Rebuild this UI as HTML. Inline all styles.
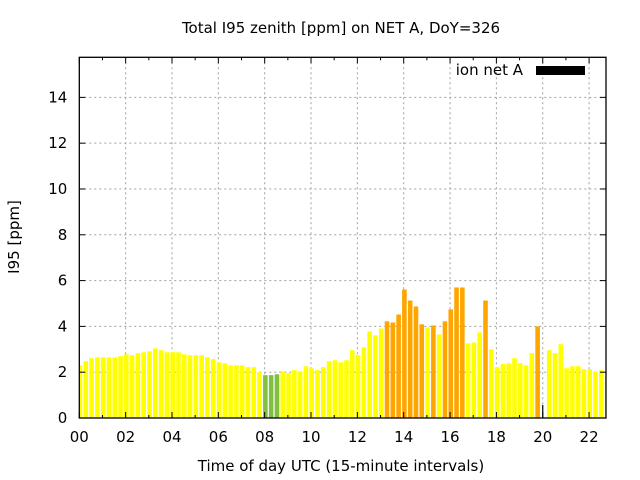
<!DOCTYPE html>
<html><head><meta charset="utf-8"><style>
html,body{margin:0;padding:0;background:#fff}
svg{display:block;font-family:"DejaVu Sans","Liberation Sans",sans-serif}
</style></head><body>
<svg id="chart" width="640" height="480" viewBox="0 0 640 480" xmlns="http://www.w3.org/2000/svg">
<rect x="0" y="0" width="640" height="480" fill="#fff"/>
<text x="341" y="33" font-size="15" text-anchor="middle" fill="#000">Total I95 zenith [ppm] on NET A, DoY=326</text>
<text x="341" y="471" font-size="15" text-anchor="middle" fill="#000">Time of day UTC (15-minute intervals)</text>
<text x="19" y="237" font-size="15" text-anchor="middle" fill="#000" transform="rotate(-90 19 237)">I95 [ppm]</text>
<g id="grid"></g>
<g id="bars"></g>
<g id="axes"></g>
<g>
<text x="523" y="75" font-size="15" text-anchor="end" fill="#000">ion net A</text>
<rect x="536" y="66" width="49" height="9" fill="#000"/>
</g>
</svg>
<script>
const values = [2.30,2.48,2.61,2.65,2.65,2.65,2.65,2.70,2.78,2.74,2.83,2.87,2.91,3.04,2.96,2.87,
2.87,2.87,2.78,2.74,2.74,2.74,2.65,2.57,2.43,2.39,2.30,2.30,2.30,2.22,2.22,2.00,
1.87,1.87,1.91,2.04,1.96,2.09,2.04,2.26,2.17,2.09,2.22,2.48,2.52,2.43,2.52,2.96,
2.74,3.09,3.78,3.61,3.91,4.22,4.17,4.52,5.61,5.13,4.87,4.09,3.96,4.04,3.65,4.22,
4.74,5.70,5.70,3.26,3.30,3.74,5.13,3.00,2.22,2.35,2.39,2.61,2.39,2.30,2.83,4.00,
null,2.96,2.83,3.22,2.17,2.26,2.26,2.13,2.13,2.04,2.09,2.04];
const levels = ["y","y","y","y","y","y","y","y","y","y","y","y","y","y","y","y",
"y","y","y","y","y","y","y","y","y","y","y","y","y","y","y","y",
"g","g","g","y","y","y","y","y","y","y","y","y","y","y","y","y",
"y","y","y","y","y","o","o","o","o","o","o","o","y","o","y","o",
"o","o","o","y","y","y","o","y","y","y","y","y","y","y","y","o",
"y","y","y","y","y","y","y","y","y","y","y","y"];
const xTicks = ["00","02","04","06","08","10","12","14","16","18","20","22"];
const yTicks = [0,2,4,6,8,10,12,14];
const colors = {y:"#ffff00", o:"#ffa500", g:"#80c040"};
const L=79.3,R=606,T=57.3,B=418,XMAX=22.73,YMAX=15.75;
const NS="http://www.w3.org/2000/svg";
function sx(t){return L+(R-L)*t/XMAX;}
function sy(v){return B-(B-T)*v/YMAX;}
function mk(tag,attrs,parent){const e=document.createElementNS(NS,tag);for(const k in attrs)e.setAttribute(k,attrs[k]);parent.appendChild(e);return e;}
const grid=document.getElementById('grid'),bars=document.getElementById('bars'),axes=document.getElementById('axes');
xTicks.forEach((lab,i)=>{const x=sx(i*2);
 if(i>0){const g=mk('line',{x1:x,x2:x,y1:T,y2:B,stroke:'#a0a0a0','stroke-width':1,'stroke-dasharray':'2,3'},grid);
 
 }
});
yTicks.forEach(v=>{if(v===0)return;const y=sy(v);
 const g=mk('line',{x1:L,x2:R,y1:y,y2:y,stroke:'#a0a0a0','stroke-width':1,'stroke-dasharray':'2,3'},grid);
 
 
});
const clip=mk('clipPath',{id:'pc'},document.getElementById('chart'));
mk('rect',{x:L,y:T,width:R-L,height:B-T},clip);
bars.setAttribute('clip-path','url(#pc)');
values.forEach((v,i)=>{if(v===null)return;const t=i*0.25+0.03;const x=sx(t);const w=4.6;
 const r=mk('rect',{x:x-w/2,y:sy(v),width:w,height:B-sy(v),fill:colors[levels[i]]},bars);
 
 
});
const m=mk('line',{x1:sx(20),x2:sx(20),y1:B-13,y2:B,stroke:'#000','stroke-width':1.2},axes);


const f=mk('rect',{x:L,y:T,width:R-L,height:B-T,fill:'none',stroke:'#000','stroke-width':1.3},axes);


for(let h=0;h<=22;h++){const x=sx(h);const len=(h%2===0)?6:3;
 const a=mk('line',{x1:x,x2:x,y1:B,y2:B-len,stroke:'#000'},axes);
 
 
 const b=mk('line',{x1:x,x2:x,y1:T,y2:T+len,stroke:'#000'},axes);
 
 
}
xTicks.forEach((lab,i)=>{const tx=mk('text',{x:sx(i*2),y:B+24,'font-size':15,'text-anchor':'middle',fill:'#000'},axes);tx.textContent=lab;
 
 
});
yTicks.forEach(v=>{const y=sy(v);
 const a=mk('line',{x1:L,x2:L+6,y1:y,y2:y,stroke:'#000'},axes);
 
 
 const b=mk('line',{x1:R-6,x2:R,y1:y,y2:y,stroke:'#000'},axes);
 
 
 const tx=mk('text',{x:L-12,y:y+5,'font-size':15,'text-anchor':'end',fill:'#000'},axes);tx.textContent=v;
 
 
});
</script>
</body></html>
